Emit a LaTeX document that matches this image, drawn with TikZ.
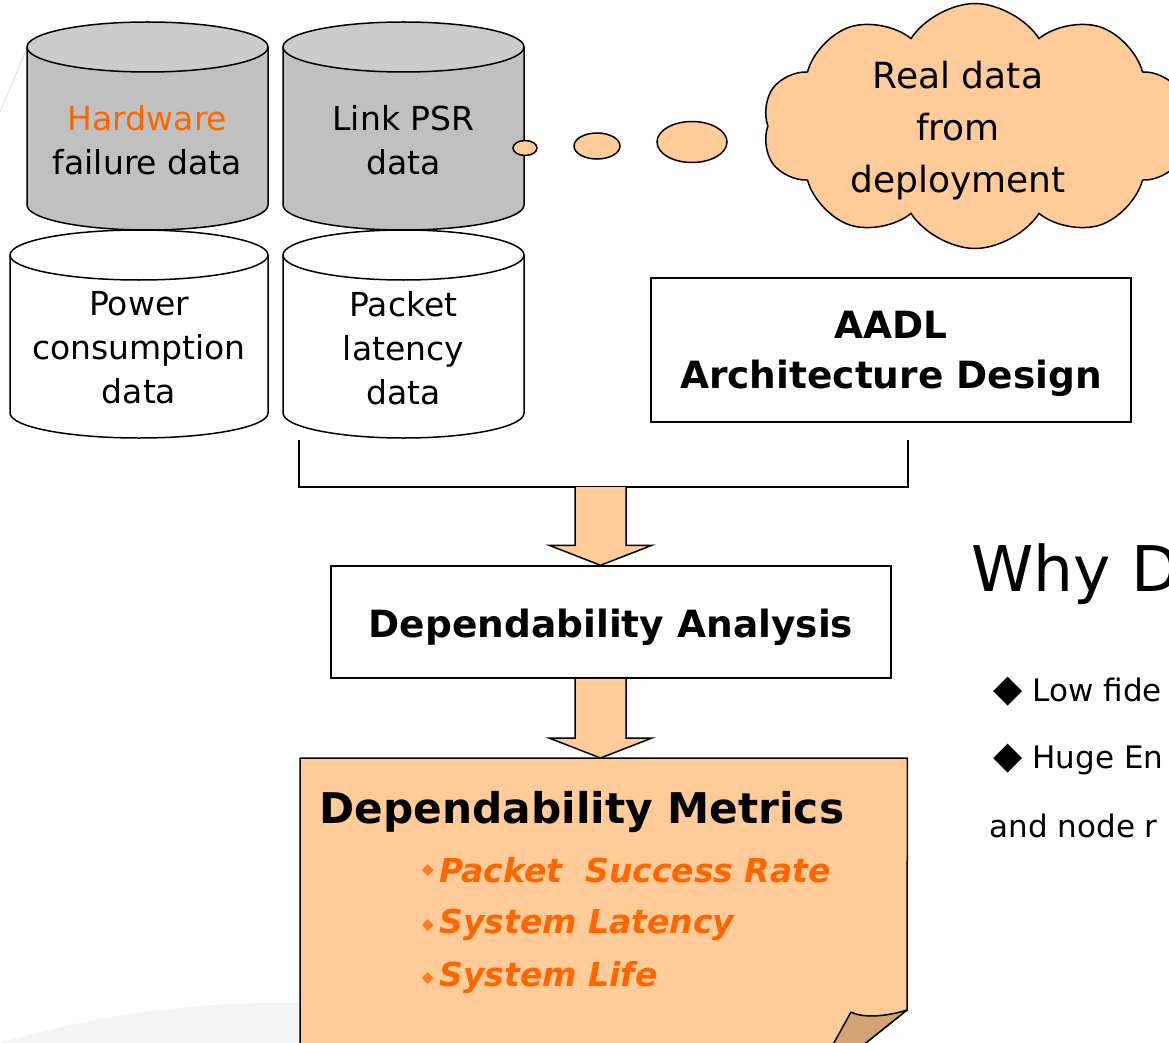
\documentclass[tikz,border=0pt]{standalone}
\usepackage{fontspec}
\setmainfont{DejaVu Sans}[ItalicFont={DejaVu Sans Oblique},BoldItalicFont={DejaVu Sans Bold Oblique}]
\usetikzlibrary{shapes.geometric,shapes.symbols,positioning,calc}

\definecolor{peach}{HTML}{FFCC99}
\definecolor{fold}{HTML}{D4A373}
\definecolor{hilite}{HTML}{FF6600}
\definecolor{dbbody}{HTML}{C0C0C0}
\definecolor{dbtop}{HTML}{CCCCCC}

\tikzset{
  storebox/.style={minimum height=208pt, inner sep=0pt, outer sep=0pt},
  store/.style={line width=1.5pt, line join=round},
  dbtext/.style={align=center, font=\fontsize{33}{44}\selectfont},
  box/.style={draw, line width=1.5pt, fill=white, align=center, font=\bfseries\fontsize{37.5}{50}\selectfont},
  fat/.style={line width=1.5pt, fill=peach, line join=miter},
  bubble/.style={ellipse, draw, line width=1.5pt, fill=peach, inner sep=0pt},
  metric/.style={anchor=west, text=hilite, font=\bfseries\itshape\fontsize{33}{40}\selectfont},
  bullet/.style={diamond, fill=hilite!85, inner sep=0pt, minimum size=12pt},
  slide/.style={anchor=west, font=\fontsize{31}{36}\selectfont},
}

% cylinder drawn inside the box of node #1, half width #2
\newcommand\datastore[4]{%
  \filldraw[store, fill=#3] ([yshift=-25pt]#1.north west) -- ([yshift=25pt]#1.south west)
    arc[start angle=180, end angle=360, x radius=#2pt, y radius=25pt] -- ([yshift=-25pt]#1.north east);
  \filldraw[store, fill=#4] ([yshift=-25pt]#1.north) ellipse[x radius=#2pt, y radius=25pt];}

% block arrow from #1 down to the tip #2
\newcommand\fatarrow[2]{%
  \filldraw[fat] ($(#1)+(-25.5,0)$) -- ($(#2)+(-25.5,-20)$) -- ($(#2)+(-51.5,-20)$)
    -- (#2) -- ($(#2)+(51.5,-20)$) -- ($(#2)+(25.5,-20)$) -- ($(#1)+(25.5,0)$);}

\begin{document}
\begin{tikzpicture}[x=1pt, y=-1pt]
\clip (0,0) rectangle (1169,1043);
\fill[white] (0,0) rectangle (1169,1043);
% slide background
\fill[black!4] (0,1043) .. controls (120,1008) and (220,1002) .. (300,1003) -- (300,1043) -- cycle;
\draw[black!12, line width=1pt] (27,48) -- (0,112);

% data stores
\node[storebox, minimum width=241pt] (hw)  at (147.5,126) {};
\node[storebox, minimum width=241pt] (psr) at (403.5,126) {};
\node[storebox, minimum width=258pt] (pwr) at (139,334) {};
\node[storebox, minimum width=241pt] (lat) at (403.5,334) {};
\datastore{hw}{120.5}{dbbody}{dbtop}
\datastore{psr}{120.5}{dbbody}{dbtop}
\datastore{pwr}{129}{white}{white}
\datastore{lat}{120.5}{white}{white}

\node[dbtext] at ([yshift=-14pt]hw.center)  {\textcolor{hilite}{Hardware}\\failure data};
\node[dbtext] at ([yshift=-14pt]psr.center) {Link PSR\\data};
\node[dbtext] at ([yshift=-14pt]pwr.center) {Power\\consumption\\data};
\node[dbtext] at ([yshift=-14pt]lat.center) {Packet\\latency\\data};

% thought bubble
\node[bubble, minimum width=24pt, minimum height=15pt] (b1) at (525,148) {};
\node[bubble, minimum width=46pt, minimum height=26pt] (b2) at (597,146) {};
\node[bubble, minimum width=70pt, minimum height=41pt] (b3) at (692,142) {};
\node[cloud, cloud puffs=10, cloud puff arc=115, cloud ignores aspect, draw, line width=1.5pt,
      fill=peach, minimum width=425pt, minimum height=245pt] (cloud) at (975,126) {};
\node[align=center, font=\fontsize{36}{52}\selectfont] at (958,131) {Real data\\from\\deployment};

\node[box, minimum width=480pt, minimum height=144pt] (aadl) at (891,350) {};
\node[box, draw=none, fill=none] at ([yshift=-4pt]aadl.center) {AADL\\Architecture Design};
\node[box, minimum width=560pt, minimum height=112pt] (ana) at (611,622) {};
\node[box, draw=none, fill=none] at ([yshift=-5pt]ana.center) {Dependability Analysis};
\node[minimum width=607pt, minimum height=300pt, anchor=north west] (met) at (300,758) {};

% inputs joined
\coordinate (inL) at (299,440);
\coordinate (inR) at (908,440);
\coordinate (join) at (600.5,487);
\draw[line width=1.5pt] (inL) |- (join) -| (inR);

\fatarrow{join}{join |- ana.north}
\fatarrow{join |- ana.south}{join |- met.north}

% metrics note with turned corner
\filldraw[line width=1.5pt, fill=peach] (met.south west) -- (met.north west) -- (met.north east)
  -- (907,1010) -- (857,1050);
\filldraw[line width=1.5pt, fill=fold, line join=round] (907,1010) .. controls (885,1017) and (862,1018) .. (851,1012)
  -- (830,1050) -- (857,1050) -- cycle;

\node[anchor=west, font=\bfseries\fontsize{42.3}{48}\selectfont] (mtitle) at (316,812) {Dependability Metrics};
\node[metric] (m1) at (436,870) {Packet\ \ Success Rate};
\node[metric] (m2) at (436,925) {System Latency};
\node[metric] (m3) at (436,978) {System Life};
\node[bullet, left=2pt of m1] {};
\node[bullet, left=2pt of m2] {};
\node[bullet, left=2pt of m3] {};

% slide text
\node[anchor=west, font=\fontsize{63}{70}\selectfont] (why) at (968,574) {Why D};
\node[slide] (low) at (990,692) {{\fontsize{38}{36}\selectfont ◆} Low fide};
\node[slide] (huge) at (990,760) {{\fontsize{38}{36}\selectfont ◆} Huge En};
\node[slide] (node) at (986,826) {and node r};
\end{tikzpicture}
\end{document}
